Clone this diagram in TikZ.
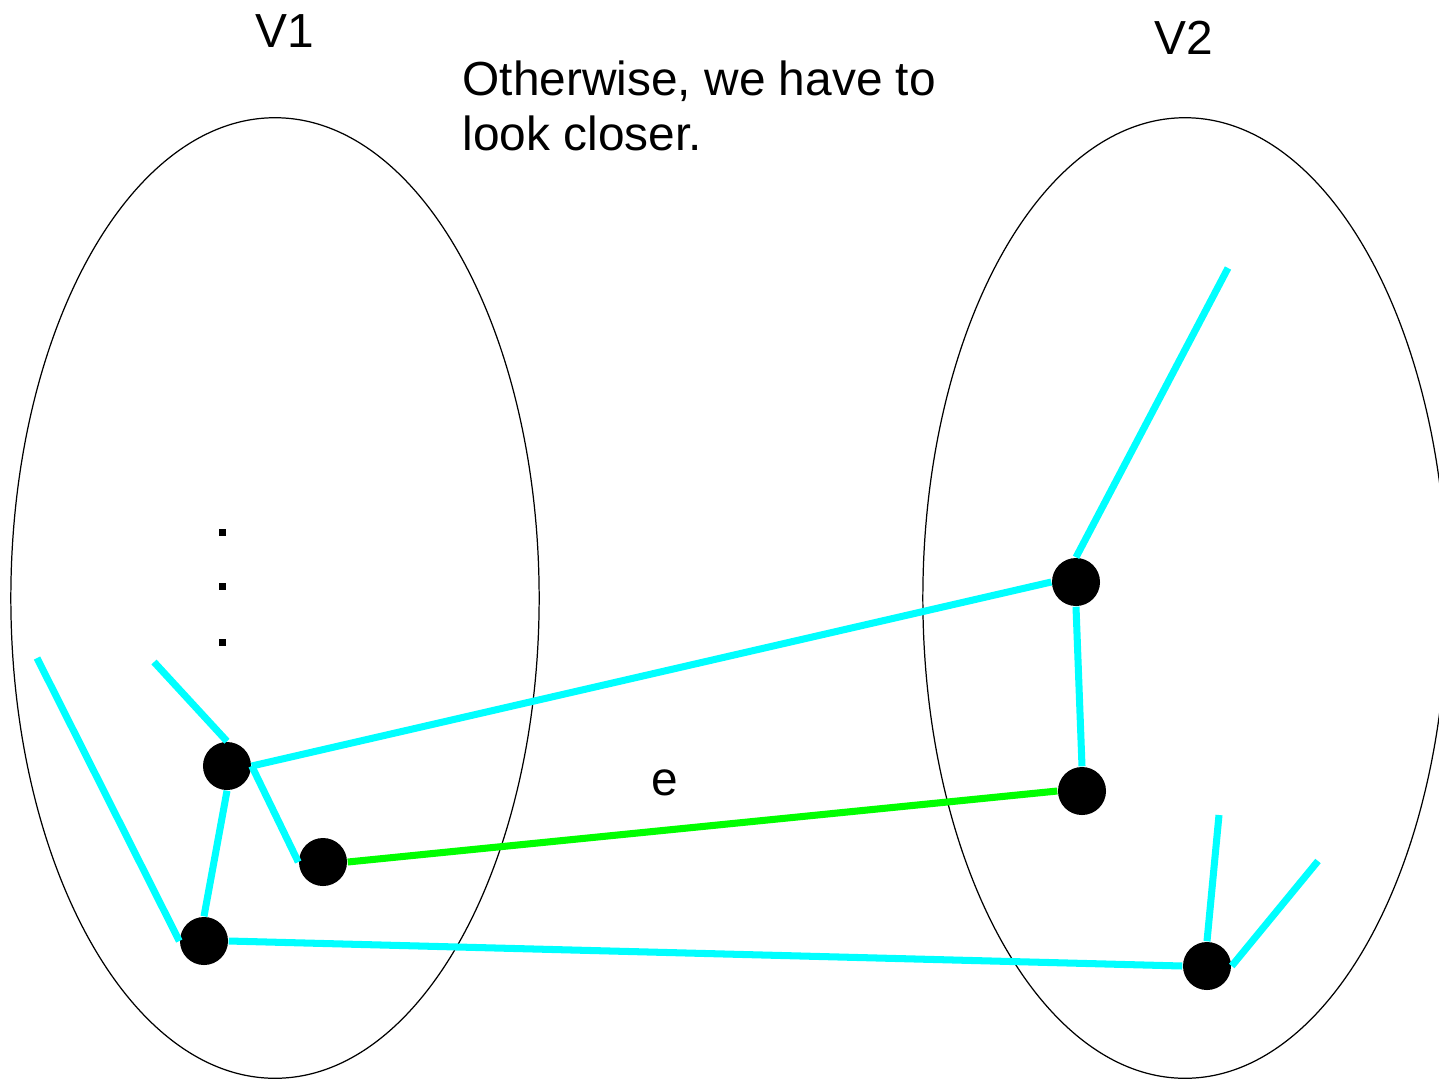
\documentclass[tikz,border=0pt]{standalone}
\usepackage{fontspec}
\setmainfont{Liberation Sans}
\definecolor{linkcyan}{RGB}{0,255,255}
\definecolor{linkgreen}{RGB}{0,255,0}
\begin{document}
\begin{tikzpicture}[x=0.01cm,y=-0.01cm,
  vtx/.style={circle,fill=black,minimum size=0.48cm,inner sep=0pt},
  edgec/.style={draw=linkcyan,line width=2pt},
  edgeg/.style={draw=linkgreen,line width=2pt},
  setring/.style={draw=black,line width=0.35pt},
  lbl/.style={font=\fontsize{13.6}{15.6}\selectfont,inner sep=0pt},
  dotsq/.style={fill=black,minimum size=0.07cm,inner sep=0pt,rectangle}]
\useasboundingbox (0,0) rectangle (1439,1078);
\begin{scope}
\clip (0,0) rectangle (1439,1078);
\draw[setring] (275,598) ellipse [x radius=2.64cm, y radius=4.80cm];
\draw[setring] (1185,598) ellipse [x radius=2.62cm, y radius=4.80cm];
\end{scope}
% labels
\node[lbl] (v1) at (285,31) {V1};
\node[lbl] (v2) at (1184,38) {V2};
\node[lbl,align=left,anchor=north west] (txt) at (462,60) {Otherwise, we have to\\look closer.};
\node[lbl] (e) at (665,783) {e};
% dots
\node[dotsq] (d1) at (222,532) {};
\node[dotsq] (d2) at (222,586) {};
\node[dotsq] (d3) at (222,642) {};
% vertices
\node[vtx] (A) at (227,766) {};
\node[vtx] (B) at (323,862) {};
\node[vtx] (C) at (204,941) {};
\node[vtx] (D) at (1076,582) {};
\node[vtx] (E) at (1082,791) {};
\node[vtx] (F) at (1207,966) {};
% free ends
\coordinate (a0) at (154,662);
\coordinate (c0) at (37,658);
\coordinate (d0) at (1228,268);
\coordinate (f0) at (1219,815);
\coordinate (f1) at (1318,861);
% edges
\draw[edgec] (a0) -- (A.north);
\draw[edgec] (c0) -- (C.west);
\draw[edgec] (A.east) -- (B.west);
\draw[edgec] (A.south) -- (C.north);
\draw[edgec] (A.east) -- (D.west);
\draw[edgec] (C.east) -- (F.west);
\draw[edgec] (D.south) -- (E.north);
\draw[edgec] (D.north) -- (d0);
\draw[edgec] (F.north) -- (f0);
\draw[edgec] (F.east) -- (f1);
\draw[edgeg] (B.east) -- (E.west);
\end{tikzpicture}
\end{document}
